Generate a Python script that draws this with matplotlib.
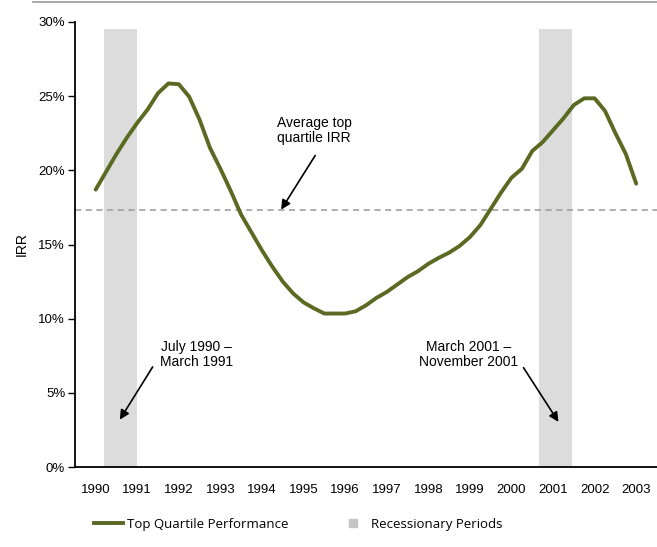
import matplotlib.pyplot as plt
from matplotlib.lines import Line2D

# quarterly top quartile IRR (%), 1990 Q1 .. 2003 Q1
years = [1990 + 0.25 * i for i in range(53)]
irr = [18.7, 19.9, 21.1, 22.2, 23.2, 24.1, 25.2, 25.85, 25.8, 24.95,
       23.4, 21.5, 20.1, 18.6, 17.0, 15.8, 14.6, 13.5, 12.5, 11.7,
       11.1, 10.7, 10.35, 10.35, 10.35, 10.5, 10.9, 11.4, 11.8, 12.3,
       12.8, 13.2, 13.7, 14.1, 14.45, 14.9, 15.5, 16.3, 17.4, 18.5,
       19.5, 20.1, 21.3, 21.9, 22.7, 23.5, 24.4, 24.85, 24.85, 24.0,
       22.5, 21.1, 19.1]
average_irr = 17.3
recessions = [(1990.2, 1991.0), (2000.65, 2001.45)]
tick_years = list(range(1990, 2004))
yticks = [0, 5, 10, 15, 20, 25, 30]

plt.rcParams['font.family'] = ['Liberation Sans', 'DejaVu Sans']

fig = plt.figure(figsize=(6.57, 5.47), dpi=100)
ax = fig.add_axes([0.114, 0.146, 0.886, 0.814])

for start, end in recessions:
    ax.fill_between([start, end], 0, 29.5, color='#dcdcdc', lw=0, zorder=1)

ax.axhline(average_irr, color='#999999', linestyle=(0, (4, 3)), lw=1.1, zorder=2)
ax.plot(years, irr, color='#5b6a22', lw=2.8, solid_capstyle='round', zorder=3)

arrow = dict(arrowstyle='-|>', color='black', lw=1.2, mutation_scale=14,
             shrinkA=0, shrinkB=0)
ax.annotate('', xy=(1994.46, 17.35), xytext=(1995.28, 21.0), arrowprops=arrow)
ax.text(1995.25, 22.7, 'Average top\nquartile IRR', ha='center', va='center',
        fontsize=10, linespacing=1.1)
ax.annotate('', xy=(1990.58, 3.2), xytext=(1991.37, 6.75), arrowprops=arrow)
ax.text(1992.43, 7.6, 'July 1990 \u2013\nMarch 1991', ha='center', va='center',
        fontsize=10, linespacing=1.1)
ax.annotate('', xy=(2001.13, 3.05), xytext=(2000.29, 6.7), arrowprops=arrow)
ax.text(1998.97, 7.6, 'March 2001 \u2013\nNovember 2001', ha='center', va='center',
        fontsize=10, linespacing=1.1)

ax.set_xlim(1989.5, 2003.5)
ax.set_ylim(0, 30)
ax.set_xticks(tick_years)
ax.set_xticklabels([str(y) for y in tick_years])
ax.set_yticks(yticks)
ax.set_yticklabels([f'{v}%' for v in yticks])
ax.tick_params(axis='x', length=0, pad=12, labelsize=9.5)
ax.tick_params(axis='y', length=5, width=1, pad=2, labelsize=9.5)
ax.set_ylabel('IRR', fontsize=10, labelpad=7)

for side in ['top', 'right']:
    ax.spines[side].set_visible(False)
for side in ['left', 'bottom']:
    ax.spines[side].set_linewidth(1.3)

fig.add_artist(Line2D([0.05, 1.0], [0.996, 0.996], color='#999999', lw=1.2,
                      transform=fig.transFigure))

handles = [Line2D([0], [0], color='#5b6a22', lw=2.8),
           Line2D([0], [0], color='#c4c4c4', marker='s', markersize=6,
                  linestyle='none')]
fig.legend(handles, ['Top Quartile Performance', 'Recessionary Periods'],
           loc='center', bbox_to_anchor=(0.454, 0.042), ncol=2, frameon=False,
           columnspacing=3.8, handlelength=2.2, handletextpad=0.3,
           prop={'family': 'Open Sans', 'size': 9.5})

fig.savefig('out.png', dpi=100)
